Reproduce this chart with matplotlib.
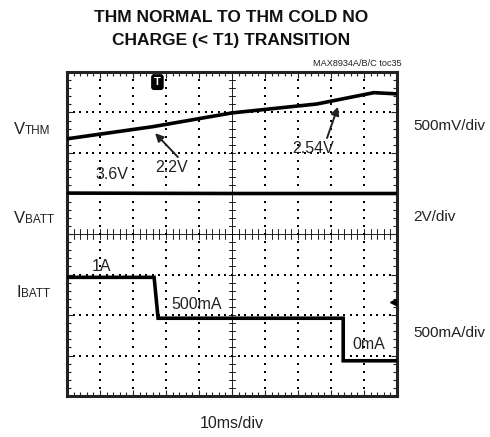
import numpy as np
import matplotlib
matplotlib.use("Agg")
import matplotlib.pyplot as plt
from matplotlib.ticker import MultipleLocator

# no narrow font installed, so Liberation Sans at reduced sizes
plt.rcParams["font.family"] = ["Liberation Sans", "DejaVu Sans"]

# scope screen: 10 x 8 divisions, traces in divisions
vthm_x = [0, 2.6, 5.0, 7.57, 9.3, 10.0]
vthm_y = [6.35, 6.65, 6.99, 7.21, 7.49, 7.46]

vbatt_x = [0, 5.0, 10.0]
vbatt_y = [5.01, 5.0, 5.0]

ibatt_x = [0, 2.64, 2.76, 8.37, 8.37, 10.0]
ibatt_y = [2.93, 2.93, 1.92, 1.92, 0.87, 0.87]

trigger_x = 2.74
trigger_level = 2.32

# value labels: (text, x, y)
value_labels = [
    ("2.2V", 3.18, 5.65),
    ("2.54V", 7.45, 6.12),
    ("3.6V", 1.36, 5.48),
    ("1A", 1.06, 3.19),
    ("500mA", 3.94, 2.25),
    ("0mA", 9.15, 1.28),
]
# arrows: (tail, head)
arrows = [
    ((3.36, 5.90), (2.67, 6.49)),
    ((7.88, 6.37), (8.21, 7.14)),
]

channel_names = [("V", "THM", 128), ("V", "BATT", 217), ("I", "BATT", 291)]
channel_scales = [("500mV/div", 126), ("2V/div", 217), ("500mA/div", 333)]

INK = "#222222"
LABEL_SIZE = 11.5

W, H = 490, 437
fig = plt.figure(figsize=(W / 100, H / 100), dpi=100)
ax = fig.add_axes([67 / W, 1 - 396 / H, 330 / W, 324 / H])
ax.set_xlim(0, 10)
ax.set_ylim(0, 8)

# frame and inward ticks
for s in ax.spines.values():
    s.set_linewidth(2.2)
    s.set_color(INK)
ax.xaxis.set_major_locator(MultipleLocator(1))
ax.xaxis.set_minor_locator(MultipleLocator(0.2))
ax.yaxis.set_major_locator(MultipleLocator(1))
ax.yaxis.set_minor_locator(MultipleLocator(0.2))
ax.tick_params(which="both", direction="in", top=True, right=True,
               labelbottom=False, labelleft=False, color=INK)
ax.tick_params(which="major", length=4, width=0.8)
ax.tick_params(which="minor", length=3, width=0.8)

# dotted graticule
minor_x = np.arange(0, 10.01, 0.2)
minor_y = np.arange(0, 8.01, 0.2)
for gx in range(1, 10):
    if gx != 5:
        ax.scatter(np.full_like(minor_y, gx), minor_y, s=0.9, c="black",
                   marker="s", linewidths=0, zorder=1)
for gy in range(1, 8):
    if gy != 4:
        ax.scatter(minor_x, np.full_like(minor_x, gy), s=0.9, c="black",
                   marker="s", linewidths=0, zorder=1)

# centre crosshair with ticks
ax.axvline(5, color="black", lw=0.6, zorder=1)
ax.axhline(4, color="black", lw=0.6, zorder=1)
for t in minor_y:
    ax.plot([4.9, 5.1], [t, t], color="black", lw=0.6, zorder=1)
for t in minor_x:
    ax.plot([t, t], [3.88, 4.12], color="black", lw=0.6, zorder=1)

# traces
for xs, ys in [(vthm_x, vthm_y), (vbatt_x, vbatt_y), (ibatt_x, ibatt_y)]:
    ax.plot(xs, ys, color="black", lw=2.6, solid_joinstyle="miter", zorder=3)

for txt, x, y in value_labels:
    ax.text(x, y, txt, fontsize=LABEL_SIZE, ha="center", va="center",
            color=INK, zorder=4)
for tail, head in arrows:
    ax.annotate("", xy=head, xytext=tail,
                arrowprops=dict(arrowstyle="-|>", color=INK, lw=1.4,
                                mutation_scale=12, shrinkA=0, shrinkB=0))

# trigger position and level markers
ax.text(trigger_x, 7.75, "T", fontsize=8, fontweight="bold", color="white",
        ha="center", va="center", clip_on=False, zorder=5,
        bbox=dict(boxstyle="round,pad=0.2", fc="black", ec="black"))
ax.plot([9.88], [trigger_level], marker="<", color="black", ms=4, zorder=5)

# titles and labels
fig.text(231 / W, 1 - 18 / H, "THM NORMAL TO THM COLD NO", fontsize=12.5,
         fontweight="bold", ha="center", va="center", color="#111111")
fig.text(231 / W, 1 - 40 / H, "CHARGE (< T1) TRANSITION", fontsize=12.5,
         fontweight="bold", ha="center", va="center", color="#111111")
fig.text(402 / W, 1 - 64 / H, "MAX8934A/B/C toc35", fontsize=6.6,
         ha="right", va="center", color=INK)
fig.text(232 / W, 1 - 423 / H, "10ms/div", fontsize=LABEL_SIZE,
         ha="center", va="center", color=INK)

for main, sub, y in channel_names:
    xs = 25 if main == "V" else 21
    fig.text(xs / W, 1 - (y + 6) / H, main, fontsize=12, ha="right",
             va="baseline", color=INK)
    fig.text(xs / W, 1 - (y + 6) / H, sub, fontsize=8.5, ha="left",
             va="baseline", color=INK)
for txt, y in channel_scales:
    fig.text(413 / W, 1 - y / H, txt, fontsize=11, ha="left", va="center",
             color=INK)

fig.savefig("out.png", dpi=100)
